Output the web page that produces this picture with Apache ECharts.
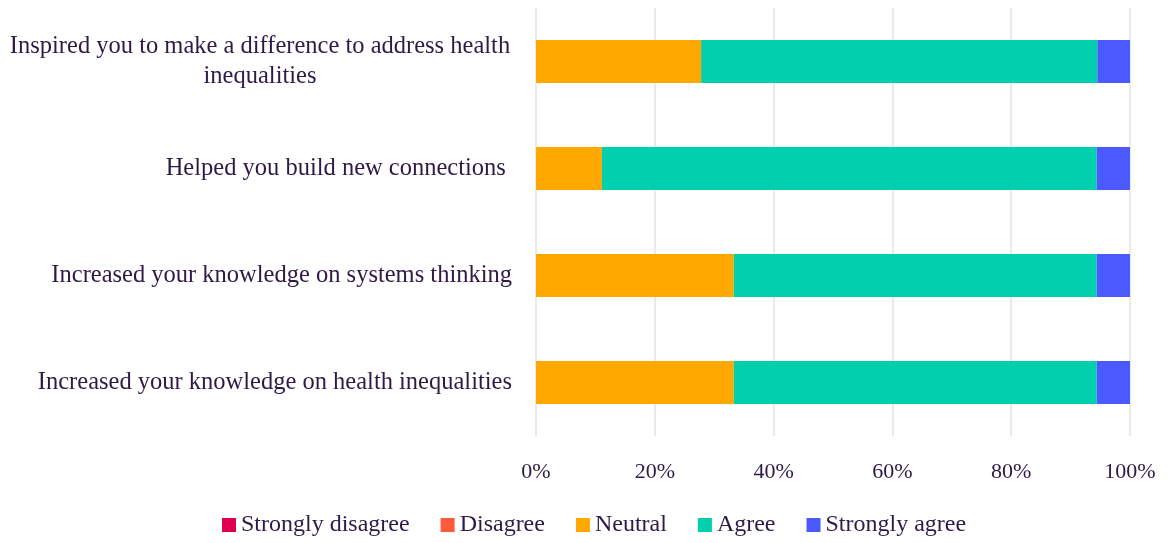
<!DOCTYPE html>
<html><head><meta charset="utf-8">
<script src="https://cdn.jsdelivr.net/npm/echarts@6/dist/echarts.min.js"></script>
<style>html,body{margin:0;padding:0;background:#fff}#c{width:1168px;height:543px}</style>
</head><body><div id="c"></div>
<script>
const categories = [
  "Increased your knowledge on health inequalities",
  "Increased your knowledge on systems thinking",
  "Helped you build new connections ",
  "Inspired you to make a difference to address health inequalities"
];
const seriesNames = ["Strongly disagree", "Disagree", "Neutral", "Agree", "Strongly agree"];
const stronglyDisagree = [0, 0, 0, 0];
const disagree = [0, 0, 0, 0];
const neutral = [33.3, 33.3, 11.1, 27.8];
const agree = [61.1, 61.1, 83.3, 66.7];
const stronglyAgree = [5.6, 5.6, 5.6, 5.6];
const tickLabels = ["0%", "20%", "40%", "60%", "80%", "100%"];

const colors = ["#e0004d", "#ff5a3c", "#ffa800", "#00d0ad", "#4a5aff"];
const txt = "#2e1a47";
const font = "Liberation Serif";
const values = [stronglyDisagree, disagree, neutral, agree, stronglyAgree];

const chart = echarts.init(document.getElementById('c'));
chart.setOption({
  animation: false,
  color: colors,
  grid: {left: 536, right: 38, top: 8, bottom: 107},
  legend: {
    bottom: 1, left: 217, itemWidth: 14, itemHeight: 14, itemGap: 31,
    icon: 'rect',
    textStyle: {fontFamily: font, fontSize: 24, color: txt},
    data: seriesNames
  },
  xAxis: {
    type: 'value', min: 0, max: 100, interval: 20,
    axisLine: {show: false}, axisTick: {show: false},
    splitLine: {lineStyle: {color: '#e3e3e3', width: 1.5}},
    axisLabel: {
      margin: 25, fontFamily: font, fontSize: 22, color: txt,
      formatter: v => tickLabels[v / 20]
    }
  },
  yAxis: {
    type: 'category', data: categories,
    axisLine: {show: false}, axisTick: {show: false},
    axisLabel: {
      margin: 24, fontFamily: font, fontSize: 24.5, color: txt,
      formatter: v => {
        if (v.indexOf('Inspired') === 0) {
          return '{c|Inspired you to make a difference to address health}\n{c|inequalities}';
        }
        return v;
      },
      rich: {c: {fontFamily: font, fontSize: 24.5, color: txt, width: 504, align: 'center', lineHeight: 30}}
    }
  },
  series: seriesNames.map((n, i) => ({
    name: n, type: 'bar', stack: 'all', barWidth: 43,
    data: values[i], itemStyle: {color: colors[i]}
  }))
});
</script></body></html>
